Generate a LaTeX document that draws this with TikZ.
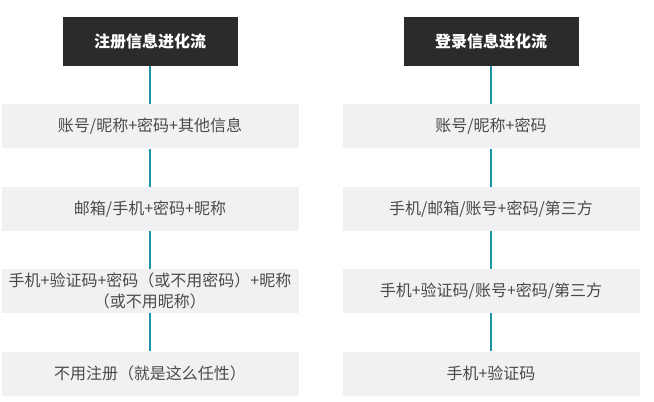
\documentclass[tikz,border=0pt]{standalone}
\usepackage{fontspec}
\newfontfamily\cjk{Noto Sans CJK SC}
\usepackage{xcolor}
\usepackage{tikz}
\usetikzlibrary{positioning}
\definecolor{headfill}{HTML}{2B2B2B}
\definecolor{boxfill}{HTML}{F1F1F3}
\definecolor{boxtext}{HTML}{4A4A4A}
\definecolor{linkteal}{HTML}{1E94AB}

\begin{document}
\begin{tikzpicture}[
  x=1pt,y=1pt,
  node distance=38pt,
  head/.style={fill=headfill,text=white,minimum width=175pt,minimum height=49pt,
               inner sep=0pt,font=\cjk\bfseries\fontsize{16}{19}\selectfont},
  item/.style={fill=boxfill,text=boxtext,minimum width=297pt,minimum height=44pt,
               inner sep=0pt,align=center,font=\cjk\fontsize{16}{21}\selectfont},
  link/.style={draw=linkteal,line width=2.7pt}
]
\useasboundingbox[fill=white] (0,0) rectangle (654,-402);

% left column
\node[head] (regh) at (150,-41.5) {注册信息进化流};
\node[item,below=of regh] (reg1) {账号/昵称+密码+其他信息};
\node[item,below=of reg1] (reg2) {邮箱/手机+密码+昵称};
\node[item,below=of reg2] (reg3) {手机+验证码+密码（或不用密码）+昵称\\（或不用昵称）};
\node[item,below=of reg3] (reg4) {不用注册（就是这么任性）};

% right column
\node[head] (logh) at (491,-41.5) {登录信息进化流};
\node[item,below=of logh] (log1) {账号/昵称+密码};
\node[item,below=of log1] (log2) {手机/邮箱/账号+密码/第三方};
\node[item,below=of log2] (log3) {手机+验证码/账号+密码/第三方};
\node[item,below=of log3] (log4) {手机+验证码};

\draw[link] (regh) -- (reg1);
\draw[link] (reg1) -- (reg2);
\draw[link] (reg2) -- (reg3);
\draw[link] (reg3) -- (reg4);

\draw[link] (logh) -- (log1);
\draw[link] (log1) -- (log2);
\draw[link] (log2) -- (log3);
\draw[link] (log3) -- (log4);
\end{tikzpicture}
\end{document}
